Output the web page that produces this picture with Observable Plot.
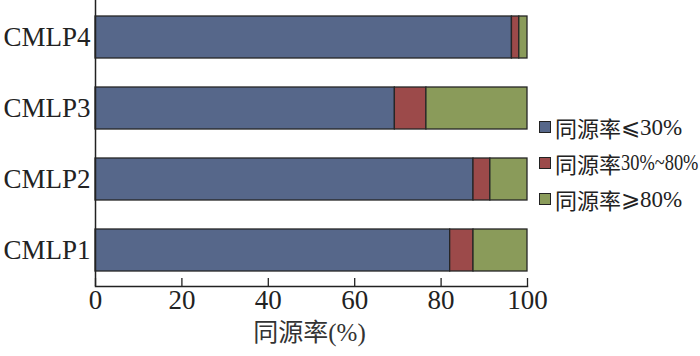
<!DOCTYPE html>
<html>
<head>
<meta charset="utf-8">
<script src="https://cdn.jsdelivr.net/npm/d3@7"></script>
<script src="https://cdn.jsdelivr.net/npm/@observablehq/plot@0.6"></script>
<style>
  html, body { margin: 0; padding: 0; background: #fff; }
  #wrap { position: relative; width: 700px; height: 356px; }
  #legend { position: absolute; left: 539px; top: 109px; font-family: "Liberation Serif", "Noto Sans CJK SC", serif; font-size: 22px; color: #222; }
  .item { display: flex; align-items: center; height: 36px; white-space: nowrap; }
  .sw { width: 12px; height: 12px; border: 1.3px solid #222; margin-right: 4px; box-sizing: border-box; flex: none; }
  .cjk { font-family: "Noto Sans CJK SC", sans-serif; }
  .lat { font-family: "Liberation Serif", "DejaVu Serif", serif; font-size: 23px; }
  .tight { display: inline-block; transform: scaleX(0.8); transform-origin: left center; }
</style>
</head>
<body>
<div id="wrap"><div id="legend"></div></div>
<script>
const samples = ["CMLP4", "CMLP3", "CMLP2", "CMLP1"];
const categories = ["同源率⩽30%", "同源率30%~80%", "同源率⩾80%"];
const colors = ["#56678a", "#9c4a4a", "#8a9b5a"];
const low = [96.4, 69.3, 87.5, 82.1];
const mid = [1.7, 7.3, 3.9, 5.4];
const high = [1.9, 23.4, 8.6, 12.5];
const xTicks = [0, 20, 40, 60, 80, 100];

const series = [low, mid, high];
const data = [];
samples.forEach((s, i) => categories.forEach((c, j) => data.push({sample: s, cat: c, value: series[j][i]})));

const font = '"Liberation Serif", "Noto Sans CJK SC", serif';
const chart = Plot.plot({
  width: 700, height: 356,
  marginLeft: 95, marginRight: 173, marginTop: 0, marginBottom: 70,
  style: {fontFamily: font, color: "#222", background: "transparent"},
  x: {domain: [0, 100], ticks: xTicks, label: null},
  y: {domain: samples, paddingInner: 0.41, paddingOuter: 0.21, label: null},
  color: {domain: categories, range: colors},
  marks: [
    Plot.barX(data, Plot.stackX({x: "value", y: "sample", fill: "cat", order: categories, stroke: "#262626", strokeWidth: 1.3})),
    Plot.ruleX([0], {stroke: "#222", strokeWidth: 1.5}),
    Plot.frame({anchor: "bottom", stroke: "#222", strokeWidth: 1.5}),
    Plot.ruleX(xTicks, {stroke: "#222", strokeWidth: 1.3, insetTop: 278}),
    Plot.axisX(xTicks, {tickSize: 0, tickPadding: 3, label: null, fontSize: 27, fill: "#222"}),
    Plot.axisY({tickSize: 0, tickPadding: 5, label: null, fontSize: 27, fill: "#222"}),
    Plot.text(["同源率(%)"], {frameAnchor: "bottom", lineAnchor: "middle", dy: 46, dx: -2, fontSize: 25, fill: "#333"})
  ]
});
document.getElementById("wrap").prepend(chart);

const lg = document.getElementById("legend");
categories.forEach((c, j) => {
  const d = document.createElement("div");
  d.className = "item";
  const m = c.match(/^([\u4e00-\u9fff]+)(.*)$/);
  const latCls = j === 1 ? "lat tight" : "lat";
  d.innerHTML = `<span class="sw" style="background:${colors[j]}"></span><span class="cjk">${m[1]}</span><span class="${latCls}">${m[2]}</span>`;
  lg.appendChild(d);
});
</script>
</body>
</html>
